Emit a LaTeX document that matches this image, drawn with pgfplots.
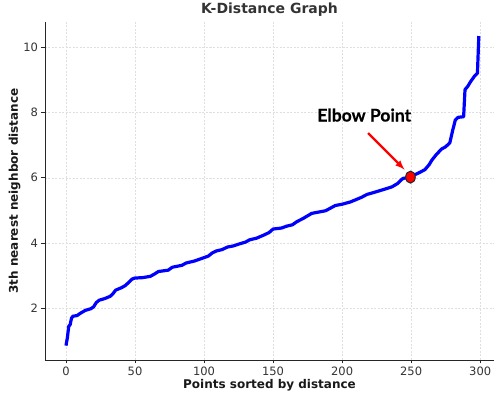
\documentclass[border=0pt]{standalone}
\usepackage{pgfplots}
\pgfplotsset{compat=1.18}
\usepackage{fontspec}
\setmainfont{DejaVu Sans}
\newfontfamily\elbowfont[BoldFeatures={FakeBold=0.6}]{Lato}

\pgfplotstableread{
x y
0 0.86
1 1.10
2 1.45
3 1.50
4 1.70
5 1.76
8 1.78
10 1.84
14 1.94
18 1.99
20 2.05
22 2.18
24 2.25
28 2.30
32 2.37
34 2.45
36 2.56
40 2.63
43 2.70
45 2.78
48 2.90
50 2.93
55 2.94
61 2.98
64 3.05
67 3.13
74 3.17
77 3.26
84 3.32
87 3.39
93 3.45
99 3.54
103 3.60
106 3.70
109 3.76
113 3.80
117 3.88
121 3.91
126 3.98
130 4.03
133 4.10
138 4.15
143 4.24
147 4.32
150 4.43
156 4.46
160 4.52
164 4.56
167 4.65
172 4.76
178 4.91
183 4.95
188 4.99
192 5.08
195 5.15
200 5.19
206 5.26
210 5.33
214 5.40
218 5.49
223 5.55
230 5.64
236 5.72
240 5.82
244 5.98
247 6.00
250 6.03
253 6.10
256 6.16
260 6.25
263 6.40
265 6.54
268 6.70
272 6.88
275 6.95
278 7.07
280 7.44
282 7.77
284 7.85
288 7.87
289 8.70
291 8.80
293 8.94
296 9.12
298 9.20
299 10.34
}\kdist

\begin{document}
\begin{tikzpicture}
\begin{axis}[
  name=ax,
  scale only axis,
  width=449pt, height=338pt,
  xmin=-15.2, xmax=310,
  ymin=0.42, ymax=10.77,
  axis lines=left,
  axis line style={-, draw=black!85, line width=0.8pt},
  tick align=outside,
  major tick length=3.5pt,
  tick style={black!85, line width=0.8pt},
  xtick={0,50,...,300},
  ytick={2,4,6,8,10},
  grid=major,
  grid style={dash pattern=on 2pt off 1.5pt, gray!25, line width=0.5pt},
  ticklabel style={font=\fontsize{11.5}{13}\selectfont, text=black!80},
  /pgf/number format/assume math mode=true,
  title={K-Distance Graph},
  title style={font=\bfseries\fontsize{14}{16}\selectfont, text=black!80, yshift=-4pt},
  xlabel={Points sorted by distance},
  ylabel={3th nearest neighbor distance},
  label style={font=\bfseries\fontsize{12}{14}\selectfont, text=black!90},
  xlabel style={yshift=3pt},
  ylabel style={yshift=-4pt},
]
\addplot[blue, line width=3.2pt, line join=round] table[x=x, y=y] {\kdist};
\addplot[only marks, mark=*, mark size=6pt,
  mark options={xscale=0.8, fill=red, draw=black!85, line width=1pt}]
  coordinates {(249.5,6.02)};
\draw[red, line width=2.2pt, -latex] (axis cs:218.8,7.37) -- (axis cs:245.2,6.25);
\node[font=\elbowfont\bfseries\fontsize{17.5}{19}\selectfont] at (axis cs:216,7.92) {Elbow Point};
\end{axis}
\pgfresetboundingbox
\path[use as bounding box] ([shift={(-45pt,-41pt)}]ax.south west) rectangle ([shift={(2pt,22pt)}]ax.north east);
\end{tikzpicture}
\end{document}
